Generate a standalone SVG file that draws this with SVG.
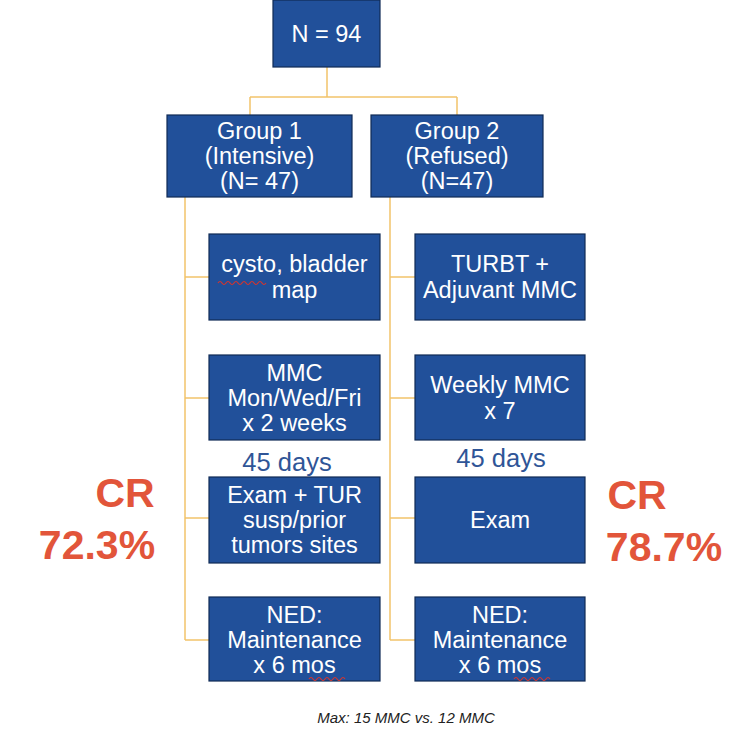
<svg xmlns="http://www.w3.org/2000/svg" width="748" height="750" viewBox="0 0 748 750">
<style>
.b{fill:#21509a;stroke:#0f2a55;stroke-width:1.2}
.t{font-family:"Liberation Sans",Arial,sans-serif;font-size:23.5px;fill:#fff;text-anchor:middle}
.c{fill:none;stroke:#f2c36b;stroke-width:1.5}
.d{font-family:"Liberation Sans",Arial,sans-serif;font-size:25.5px;fill:#2f5597;text-anchor:middle}
.r{font-family:"Liberation Sans",Arial,sans-serif;font-size:41px;font-weight:bold;fill:#e2553a;text-anchor:middle}
.w{fill:none;stroke:#d9342b;stroke-width:1.2}
</style>
<rect width="748" height="750" fill="#fff"/>
<g id="connectors">
<path class="c" d="M327 67V97M250 97H457M250 97V115M457 97V115"/>
<path class="c" d="M185 197V640M185 277H209M185 398H209M185 518H209M185 640H209"/>
<path class="c" d="M390 197V640M390 277H415M390 398H415M390 518H415M390 640H415"/>
</g>
<g id="n94"><rect class="b" x="273" y="0" width="107" height="67"/><text class="t" x="326.5" y="42">N = 94</text></g>
<g id="g1"><rect class="b" x="167" y="115" width="185" height="82"/><text class="t" x="259.5" y="139">Group 1</text><text class="t" x="259.5" y="164">(Intensive)</text><text class="t" x="259.5" y="189">(N= 47)</text></g>
<g id="g2"><rect class="b" x="371" y="115" width="172" height="82"/><text class="t" x="457" y="139">Group 2</text><text class="t" x="457" y="164">(Refused)</text><text class="t" x="457" y="189">(N=47)</text></g>
<g id="l1"><rect class="b" x="209" y="234" width="171" height="86"/><text class="t" x="294.5" y="272">cysto, bladder</text><text class="t" x="294.5" y="298">map</text><path class="w" d="M218 283q2-3 4 0t4 0t4 0t4 0t4 0t4 0t4 0t4 0t4 0t4 0t4 0t4 0"/></g>
<g id="l2"><rect class="b" x="209" y="355" width="171" height="85"/><text class="t" x="294.5" y="381">MMC</text><text class="t" x="294.5" y="406">Mon/Wed/Fri</text><text class="t" x="294.5" y="431">x 2 weeks</text></g>
<g id="l3"><rect class="b" x="209" y="477" width="171" height="86"/><text class="t" x="294.5" y="503">Exam + TUR</text><text class="t" x="294.5" y="528">susp/prior</text><text class="t" x="294.5" y="553">tumors sites</text></g>
<g id="l4"><rect class="b" x="209" y="597" width="171" height="84"/><text class="t" x="294.5" y="623">NED:</text><text class="t" x="294.5" y="648">Maintenance</text><text class="t" x="294.5" y="673">x 6 mos</text><path class="w" d="M309 679q2-3 4 0t4 0t4 0t4 0t4 0t4 0t4 0t4 0t4 0"/></g>
<g id="r1"><rect class="b" x="415" y="234" width="170" height="86"/><text class="t" x="500" y="272">TURBT +</text><text class="t" x="500" y="298">Adjuvant MMC</text></g>
<g id="r2"><rect class="b" x="415" y="355" width="170" height="85"/><text class="t" x="500" y="393">Weekly MMC</text><text class="t" x="500" y="419">x 7</text></g>
<g id="r3"><rect class="b" x="415" y="477" width="170" height="86"/><text class="t" x="500" y="528">Exam</text></g>
<g id="r4"><rect class="b" x="415" y="597" width="170" height="84"/><text class="t" x="500" y="623">NED:</text><text class="t" x="500" y="648">Maintenance</text><text class="t" x="500" y="673">x 6 mos</text><path class="w" d="M514 679q2-3 4 0t4 0t4 0t4 0t4 0t4 0t4 0t4 0t4 0"/></g>
<text class="d" x="287" y="471">45 days</text>
<text class="d" x="501" y="467">45 days</text>
<text class="r" x="125" y="507">CR</text>
<text class="r" x="97" y="559">72.3%</text>
<text class="r" x="637" y="509">CR</text>
<text class="r" x="664" y="561">78.7%</text>
<text x="406" y="723" font-family="Liberation Sans,Arial,sans-serif" font-size="15" font-style="italic" fill="#222" text-anchor="middle">Max: 15 MMC vs. 12 MMC</text>
</svg>
